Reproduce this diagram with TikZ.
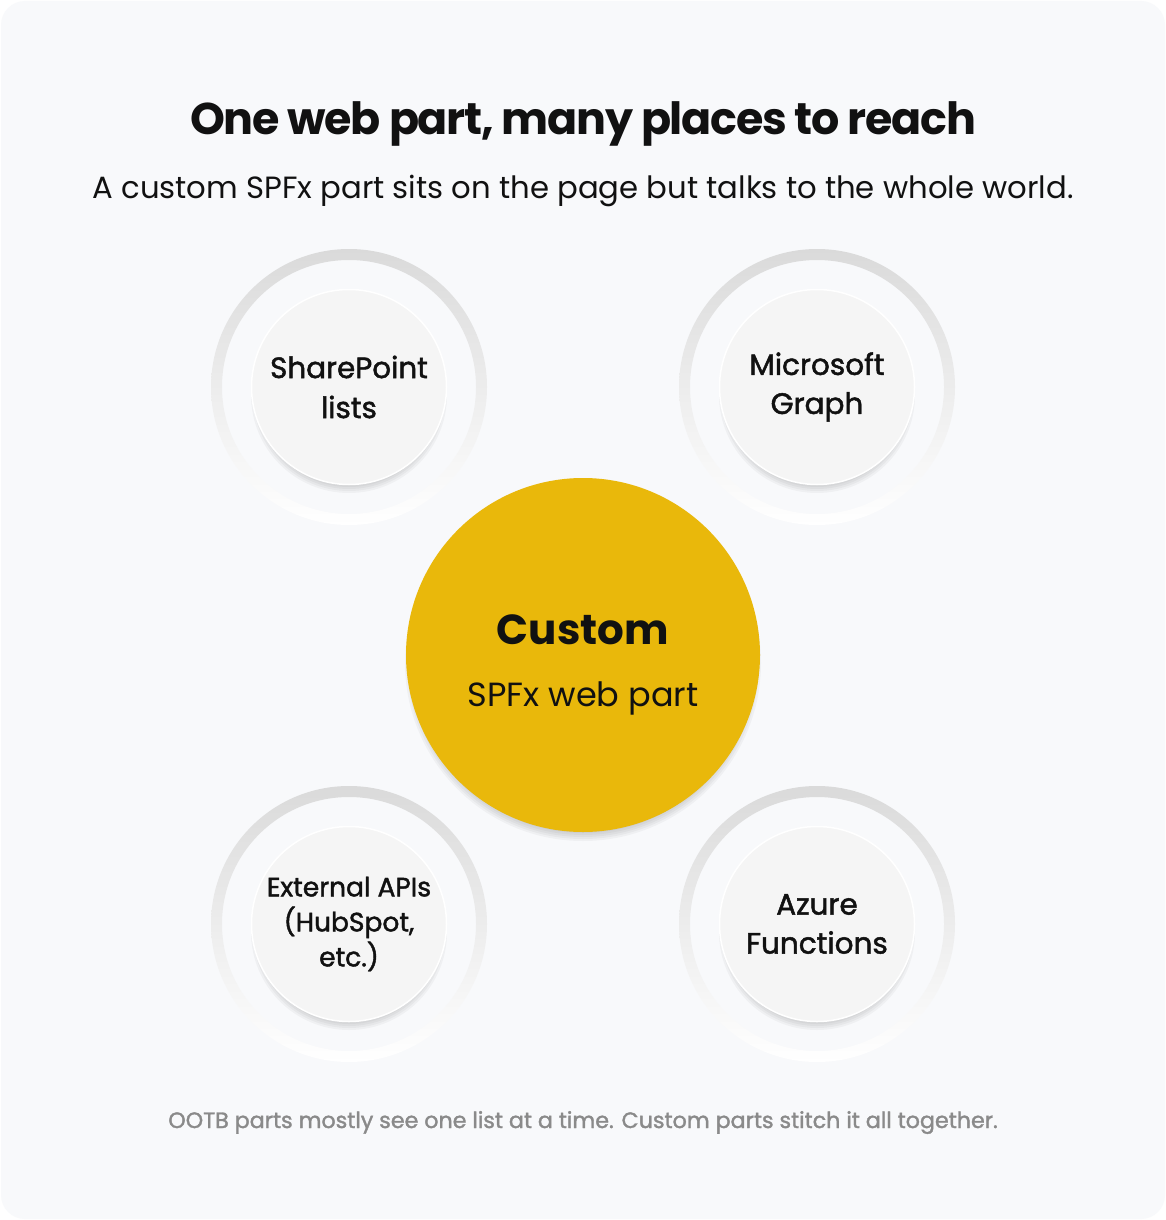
\documentclass[tikz,border=0pt]{standalone}
\usepackage{fontspec}
\setmainfont{Poppins}
\newfontfamily\titlefont[LetterSpace=-3]{Poppins}
\newfontfamily\medfont[FakeBold=1.6]{Poppins}
\definecolor{bg}{HTML}{F8F9FB}
\definecolor{gold}{HTML}{E9B80B}
\definecolor{satfill}{HTML}{F5F5F5}
\definecolor{ringtop}{HTML}{DADADA}
\definecolor{foot}{HTML}{8A8A8A}
\definecolor{ink}{HTML}{111111}
\tikzset{
  ring/.style={top color=ringtop, bottom color=white, even odd rule},
  softshadow/.style={fill=black, opacity=0.035},
  sat/.style={circle, fill=satfill, draw=white, line width=1.5pt, minimum size=195pt,
    inner sep=0pt, align=center, text=ink},
  hub/.style={circle, fill=gold, minimum size=354pt, inner sep=0pt},
  hubtext/.style={anchor=base, text=ink},
}
\begin{document}
\begin{tikzpicture}[x=1pt,y=-1pt]
\useasboundingbox (0,0) rectangle (1166,1220);
\fill[white] (0,0) rectangle (1166,1220);
\fill[bg, rounded corners=24pt] (1,1) rectangle (1165,1219);

\node[anchor=base, text=ink, font=\titlefont\bfseries\fontsize{44.4}{50}\selectfont] (title) at (583,135) {One web part, many places to reach};
\node[anchor=base, text=ink, font=\fontsize{30.7}{34}\selectfont] (subtitle) at (583,198) {A custom SPFx part sits on the page but talks to the whole world.};

% rings and soft shadows
\foreach \cx/\cy in {349/387, 817/387, 349/924, 817/924}{
  \shade[ring] (\cx,\cy) circle[radius=138] (\cx,\cy) circle[radius=127];
  \foreach \r in {86,88,...,98}{
    \fill[softshadow] (\cx,{\cy+8}) circle[radius=\r];
  }
}
\foreach \r in {166,168,...,178}{
  \fill[softshadow] (583,663) circle[radius=\r];
}

\node[sat, font=\medfont\fontsize{29.4}{40}\selectfont] (sp) at (349,387) {SharePoint\\lists};
\node[sat, font=\medfont\fontsize{29.5}{39}\selectfont] (graph) at (817,387) {Microsoft\\Graph};
\node[sat, font=\medfont\fontsize{26.5}{35}\selectfont] (ext) at (349,924) {External APIs\\(HubSpot,\\etc.)};
\node[sat, font=\medfont\fontsize{29.5}{39}\selectfont] (azure) at (817,924) {Azure\\Functions};

\node[hub] (hub) at (583,655) {};
\node[hubtext, font=\bfseries\fontsize{42}{48}\selectfont] (hubtitle) at (583,644) {Custom};
\node[hubtext, font=\fontsize{33.5}{38}\selectfont] (hubsub) at (583,706) {SPFx web part};

\node[anchor=base, text=foot, font=\medfont\fontsize{22.2}{26}\selectfont] (footer) at (583,1128) {OOTB parts mostly see one list at a time. Custom parts stitch it all together.};
\end{tikzpicture}
\end{document}
